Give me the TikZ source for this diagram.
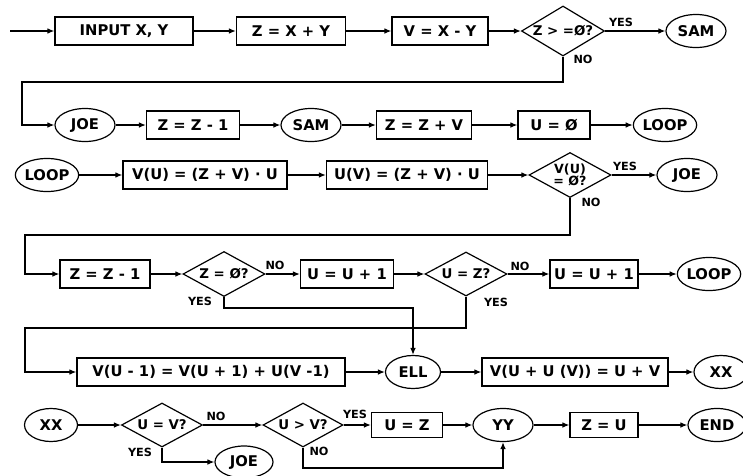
\documentclass[tikz,border=0pt]{standalone}
\usepackage{fontspec}
\setmainfont{DejaVu Sans}
\usetikzlibrary{arrows.meta,shapes.geometric}

\begin{document}
\begin{tikzpicture}[
    x=0.025cm, y=-0.025cm,
    >={Latex[length=5pt,width=4pt]},
    every node/.style={font=\bfseries\fontsize{10.5}{11}\selectfont},
    box/.style={draw,rectangle,line width=0.85pt,minimum height=0.7cm,inner sep=0pt},
    term/.style={draw,ellipse,line width=0.85pt,minimum width=1.5cm,minimum height=0.825cm,inner sep=0pt},
    dec/.style={draw,diamond,aspect=2,line width=0.85pt,inner sep=0pt,align=center,
                font=\bfseries\fontsize{9.5}{9.5}\selectfont},
    lbl/.style={font=\bfseries\fontsize{8}{8}\selectfont,inner sep=1pt},
    flow/.style={->,line width=0.85pt},
]

\useasboundingbox (0,0) rectangle (743,475);

% =====================================================
% Row 1 : input
% =====================================================

\coordinate (start) at (10,31);
\node[box,minimum width=3.45cm] (inp) at (124,31) {INPUT X, Y};
\node[box,minimum width=2.725cm] (zxy) at (291,31) {Z = X + Y};
\node[box,minimum width=2.4cm] (vxy) at (440,31) {V = X - Y};
\node[dec,minimum width=2.075cm,minimum height=1.25cm] (zge) at (563,31) {Z > =Ø?};
\node[term] (sam1) at (696,31) {SAM};
\node[lbl] (zgeY) at (621,22) {YES};
\node[lbl] (zgeN) at (583,59) {NO};

\coordinate (nb1) at (22,82);

\draw[flow] (start) -- (inp);
\draw[flow] (inp) -- (zxy);
\draw[flow] (zxy) -- (vxy);
\draw[flow] (vxy) -- (zge);
\draw[flow] (zge) -- (sam1);

% =====================================================
% Row 2 : JOE ... LOOP
% =====================================================

\node[term] (joe1) at (85,125) {JOE};
\node[box,minimum width=2.325cm] (zm1) at (193,125) {Z = Z - 1};
\node[term] (sam2) at (311,125) {SAM};
\node[box,minimum width=2.375cm] (zzv) at (424,125) {Z = Z + V};
\node[box,minimum width=1.8cm] (u0) at (554,125) {U = Ø};
\node[term] (loop1) at (665,125) {LOOP};

\draw[flow] (zge.south) |- (nb1) |- (joe1.west);
\draw[flow] (joe1) -- (zm1);
\draw[flow] (zm1) -- (sam2);
\draw[flow] (sam2) -- (zzv);
\draw[flow] (zzv) -- (u0);
\draw[flow] (u0) -- (loop1);

% =====================================================
% Row 3 : LOOP
% =====================================================

\node[term] (loop2) at (47,175) {LOOP};
\node[box,minimum width=4.1cm] (vu) at (205,175) {V(U) = (Z + V) · U};
\node[box,minimum width=4.025cm] (uv) at (407,175) {U(V) = (Z + V) · U};
\node[dec,minimum width=2.05cm,minimum height=1.125cm,
      font=\bfseries\fontsize{9}{9}\selectfont] (vu0) at (570,175) {V(U)\\= Ø?};
\node[term] (joe2) at (687,175) {JOE};
\node[lbl] (vu0Y) at (625,166) {YES};
\node[lbl] (vu0N) at (591,202) {NO};

\coordinate (nb2) at (25,235);

\draw[flow] (loop2) -- (vu);
\draw[flow] (vu) -- (uv);
\draw[flow] (uv) -- (vu0);
\draw[flow] (vu0) -- (joe2);

% =====================================================
% Row 4 : tests on Z and U
% =====================================================

\node[box,minimum width=2.25cm] (zm2) at (105,274) {Z = Z - 1};
\node[dec,minimum width=2.05cm,minimum height=1.125cm] (z0) at (224,274) {Z = Ø?};
\node[box,minimum width=2.325cm] (uu1) at (347,274) {U = U + 1};
\node[dec,minimum width=2.05cm,minimum height=1.1cm] (uz0) at (466,274) {U = Z?};
\node[box,minimum width=2.2cm] (uu2) at (594,274) {U = U + 1};
\node[term] (loop3) at (709,274) {LOOP};
\node[lbl] (z0N) at (275,265) {NO};
\node[lbl] (z0Y) at (200,301) {YES};
\node[lbl] (uz0N) at (520,266) {NO};
\node[lbl] (uz0Y) at (496,302) {YES};

\coordinate (yb1) at (413,308);
\coordinate (yb2) at (25,328);

\draw[flow] (vu0.south) |- (nb2) |- (zm2.west);
\draw[flow] (zm2) -- (z0);
\draw[flow] (z0) -- (uu1);
\draw[flow] (uu1) -- (uz0);
\draw[flow] (uz0) -- (uu2);
\draw[flow] (uu2) -- (loop3);

% =====================================================
% Row 5 : ELL
% =====================================================

\node[box,minimum width=6.7cm] (vum) at (211,372) {V(U - 1) = V(U + 1) + U(V -1)};
\node[term,minimum width=1.375cm] (ell) at (413,372) {ELL};
\node[box,minimum width=4.65cm] (vuuv) at (575,372) {V(U + U (V)) = U + V};
\node[term,minimum width=1.35cm] (xx1) at (721,372) {XX};

\draw[flow] (z0.south) |- (yb1) -- (ell.north);
\draw[flow] (uz0.south) |- (yb2) |- (vum.west);
\draw[flow] (vum) -- (ell);
\draw[flow] (ell) -- (vuuv);
\draw[flow] (vuuv) -- (xx1);

% =====================================================
% Row 6 : XX ... END
% =====================================================

\node[term,minimum width=1.325cm] (xx2) at (51,425) {XX};
\node[dec,minimum width=2.025cm,minimum height=1.1cm] (uveq) at (162,425) {U = V?};
\node[dec,minimum width=2cm,minimum height=1.1cm] (uvgt) at (303,425) {U > V?};
\node[box,minimum width=1.775cm,minimum height=0.625cm] (uzs) at (407,425) {U = Z};
\node[term] (yy) at (503,425) {YY};
\node[box,minimum width=1.7cm,minimum height=0.625cm] (zus) at (604,425) {Z = U};
\node[term,minimum width=1.45cm] (fin) at (717,425) {END};
\node[term,minimum width=1.45cm,minimum height=0.8cm] (joe3) at (244,462) {JOE};
\node[lbl] (uveqN) at (216,416) {NO};
\node[lbl] (uveqY) at (140,452) {YES};
\node[lbl] (uvgtY) at (355,414) {YES};
\node[lbl] (uvgtN) at (319,451) {NO};

\coordinate (nb3) at (303,468);

\draw[flow] (xx2) -- (uveq);
\draw[flow] (uveq) -- (uvgt);
\draw[flow] (uvgt) -- (uzs);
\draw[flow] (uzs) -- (yy);
\draw[flow] (yy) -- (zus);
\draw[flow] (zus) -- (fin);
\draw[flow] (uveq.south) |- (joe3.west);
\draw[flow] (uvgt.south) -- (nb3) -| (yy.south);

\end{tikzpicture}
\end{document}
